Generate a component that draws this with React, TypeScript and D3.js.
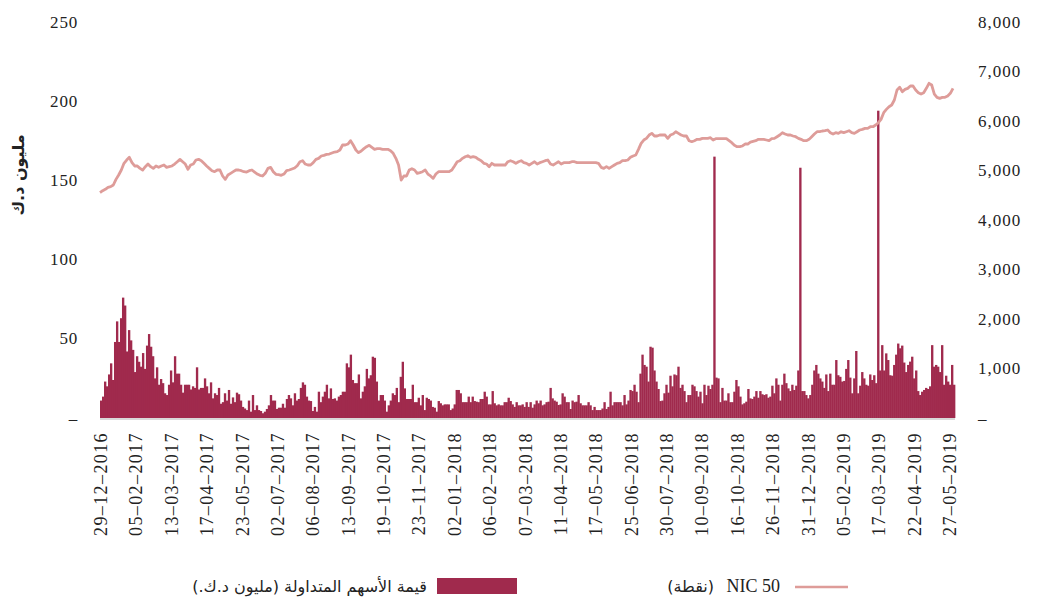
import React from 'react';
import * as d3 from 'd3';

// x-axis tick labels (every 25th trading day)
const tickLabels = [
  '29–12–2016', '05–02–2017', '13–03–2017', '17–04–2017', '23–05–2017',
  '02–07–2017', '06–08–2017', '13–09–2017', '19–10–2017', '23–11–2017',
  '02–01–2018', '06–02–2018', '07–03–2018', '11–04–2018', '17–05–2018',
  '25–06–2018', '30–07–2018', '10–09–2018', '16–10–2018', '26–11–2018',
  '31–12–2018', '05–02–2019', '17–03–2019', '22–04–2019', '27–05–2019',
];

// traded value (million KD)
const tradedValue = [
  11, 13.5, 23, 20, 27.5, 34.5, 24, 48, 61, 48, 63, 76, 71, 42, 55.5, 49, 43, 29, 39, 35.5,
  32.4, 41, 31, 45.7, 53, 45, 39, 25, 32, 21, 24.6, 22, 15.6, 14.5, 21, 30, 22.5, 39, 28, 28,
  21, 16, 21, 21, 21, 18, 20, 19, 32, 18, 19, 19, 25, 20, 15.6, 22.5, 12.4, 15.6, 14.5, 19,
  9, 10, 15.6, 11, 17.7, 9, 13, 10, 16, 15, 11,
  7, 6, 5, 11, 4, 14.5, 5, 8, 5, 4.4, 3, 4, 5.7, 8, 14.5, 11, 11, 5.7, 6.5, 6.5,
  9, 6.5, 12, 14.5, 12.4, 8, 15.6, 11, 12, 19, 22.5, 21, 13.5, 11, 10.7, 4.4, 7, 4, 16.6, 10,
  13.5, 16.6, 21, 12.4, 18.7, 12, 12.4, 11, 13.5, 14.5, 16.6, 16.6, 34.5, 32, 40, 24, 22, 22, 27.5, 12.4,
  16.6, 20, 31, 25, 27, 38.7, 38, 23, 11, 14.5,
  14.5, 11, 4, 8, 11, 15.6, 14.5, 19, 10, 26, 35.5, 18.7, 12, 12, 12, 21, 10, 10, 12.8, 8,
  14.5, 5, 12.8, 12, 11, 7, 6.5, 4, 10.7, 9.3, 8, 8.6, 8.6, 8.6, 5, 6, 8.6, 17.7, 17.7, 15.6,
  10, 10, 10, 13.5, 10, 13.5, 10.7, 10.3, 10, 12, 12, 16.6, 13.5, 8.6, 8.6, 17, 9.3, 8, 8.6, 8,
  8, 10, 10, 12.8, 10.7, 8.6, 7, 10, 8, 8,
  8.6, 7, 10, 7, 10, 6.5, 8.6, 11, 9.3, 11, 8, 8.6, 10, 10.3, 19, 12.4, 11, 10.3, 8.2, 8.6,
  15.6, 13.5, 10, 10, 5.7, 11, 10, 10.3, 14.5, 9.3, 8, 8, 8, 10, 8, 5, 7, 5, 5, 5,
  6, 10, 5.7, 7, 16.6, 8, 10, 10, 10, 10, 8, 14.5, 8.6, 11, 17.7, 17, 21, 16.6, 10, 28,
  40, 33.5, 32.4, 23, 45, 44.4, 30, 23, 18.3, 10.7,
  11, 15.6, 21, 16, 26.7, 20, 27.5, 27, 32.4, 19, 21, 17, 10, 14.5, 14.5, 21, 20, 17, 13.5, 16.6,
  9.3, 21, 14.5, 20.4, 18.3, 21, 165, 25.5, 25, 10, 19, 11, 11, 15.6, 10, 10, 16.6, 24, 20, 13.5,
  8.6, 9.3, 10.3, 18.3, 12.4, 12, 13.5, 17, 12.8, 17, 15, 14.5, 15, 12.8, 13.5, 20.4, 15.6, 25, 21, 11,
  21, 28, 22, 18.7, 17, 21, 17.7, 20.4, 30, 158,
  17, 17, 14.5, 12.4, 14.5, 21, 30, 33.5, 28, 25, 23, 19, 27.5, 17, 28, 21, 21, 36.6, 27, 26,
  23, 23.4, 31, 36.6, 25.5, 15.6, 25, 42.3, 15.6, 20.4, 29, 25, 21, 20.4, 27.5, 24, 27, 22, 194, 30,
  46, 30, 40.8, 36.6, 27, 26.7, 33.5, 40, 47, 44, 45.7, 35, 29, 33.5, 35.6, 38.7, 25, 30, 17, 14.5,
  16.6, 17.7, 19, 18.3, 20, 46, 32.4, 33.5, 32.4, 29, 46, 21, 26.7, 23, 21, 33.5, 21,
];

// NIC 50 index (points)
const nic50 = [
  4552, 4592, 4619, 4660, 4673, 4707, 4821, 4909, 5010, 5145, 5212, 5266, 5158, 5091, 5091, 5043, 5010, 5077, 5131, 5077,
  5043, 5091, 5064, 5091, 5111, 5064, 5077, 5091, 5131, 5178, 5225, 5178, 5131, 5023, 5111, 5131, 5212, 5225, 5198, 5145,
  5091, 5043, 4996, 4976, 5010, 5010, 4889, 4821, 4909, 4942, 4976, 5010, 5010, 4996, 4976, 4969, 4996, 5010, 4969, 4929,
  4902, 4889, 4942, 5043, 5064, 4976, 4922, 4916, 4902, 4929, 4996, 5010, 5030, 5050, 5097, 5178, 5198, 5131, 5111, 5111,
  5158, 5225, 5246, 5293, 5306, 5326, 5333, 5353, 5373, 5380, 5414, 5515, 5515, 5535, 5602, 5515, 5414, 5360, 5394, 5441,
  5481, 5508, 5468, 5427, 5441, 5441, 5427,
  5427, 5427, 5400, 5347, 5246, 5111, 4808, 4889, 4889, 5010, 5037, 5010, 4942, 4956, 4976, 5010, 4929, 4889, 4841, 4929,
  4976, 4976, 4976, 4976, 4976, 5010, 5091, 5178, 5198, 5246, 5279, 5299, 5266, 5279, 5266, 5225, 5198, 5145, 5131, 5077,
  5145, 5111, 5111, 5111, 5111, 5111, 5178, 5198, 5178, 5145, 5178, 5198, 5158, 5145, 5111, 5145, 5178, 5131, 5158, 5178,
  5198, 5212, 5131, 5111, 5145, 5178, 5131, 5158, 5158, 5158, 5178, 5178, 5158, 5158, 5158, 5158, 5158, 5158, 5158, 5158,
  5145, 5064, 5043, 5077, 5043, 5077, 5111, 5145, 5158, 5198, 5198, 5212, 5266, 5293, 5313, 5427, 5549, 5616, 5650, 5717,
  5751, 5697, 5697, 5717, 5717, 5717, 5650,
  5717, 5737, 5784, 5751, 5717, 5697, 5697, 5602, 5582, 5602, 5629, 5629, 5650, 5650, 5650, 5663, 5616, 5643, 5643, 5643,
  5643, 5643, 5602, 5562, 5508, 5481, 5481, 5495, 5535, 5535, 5575, 5589, 5602, 5629, 5629, 5629, 5616, 5602, 5643, 5650,
  5683, 5717, 5764, 5737, 5717, 5717, 5697, 5683, 5650, 5629, 5602, 5602, 5629, 5683, 5737, 5784, 5784, 5798, 5804, 5818,
  5764, 5737, 5764, 5751, 5784, 5764, 5784, 5804, 5764, 5751, 5784, 5818, 5831, 5852, 5852, 5885, 5885, 5919, 5966, 6033,
  6168, 6235, 6289, 6323, 6424, 6626, 6680, 6592, 6639, 6660, 6707, 6707, 6626, 6572, 6545, 6572, 6660, 6761, 6727, 6545,
  6478, 6458, 6478, 6478, 6505, 6559, 6660,
];

const leftTicks = [0, 50, 100, 150, 200, 250];
const rightTicks = [0, 1000, 2000, 3000, 4000, 5000, 6000, 7000, 8000];

const barLegend = 'قيمة الأسهم المتداولة (مليون د.ك.)';
const lineLegendName = 'NIC 50';
const lineLegendUnit = '(نقطة)';
const yTitle = 'مليون د.ك';

const BAR_COLOR = '#A02A4D';
const LINE_COLOR = '#DE9C99';
const TEXT_COLOR = '#222';
const NUM_FONT = "'Liberation Serif', 'DejaVu Serif', serif";
const AR_FONT = "'DejaVu Sans', sans-serif";

export default function App() {
  const W = 1037;
  const H = 597;
  const left = 100;
  const right = 955;
  const top = 22;
  const bottom = 418;

  const xBar = d3.scaleBand<number>().domain(d3.range(tradedValue.length)).range([left, right]).padding(0);
  const xLine = d3.scaleLinear().domain([0, nic50.length - 1]).range([left, 953]);
  const xTick = d3.scalePoint<string>().domain(tickLabels).range([101, 950]);
  const yL = d3.scaleLinear().domain([0, 250]).range([bottom, top]);
  const yR = d3.scaleLinear().domain([0, 8000]).range([bottom, top]);
  const linePath = d3.line<number>().x((_, i) => xLine(i)).y((d) => yR(d))(nic50) || '';
  const fmt = d3.format(',');

  return (
    <svg width={W} height={H} style={{ position: 'absolute', left: 0, top: 0, background: '#fff' }}>
      {/* baseline */}
      <line x1={left} x2={right} y1={bottom + 1} y2={bottom + 1} stroke="#d9d9d9" strokeWidth={2} />
      {/* bars */}
      <g>
        {tradedValue.map((v, i) => (
          <rect
            key={i}
            x={xBar(i)}
            y={yL(v)}
            width={xBar.bandwidth() + 0.35}
            height={bottom - yL(v)}
            fill={BAR_COLOR}
          />
        ))}
      </g>
      {/* line */}
      <path d={linePath} fill="none" stroke={LINE_COLOR} strokeWidth={2.8} strokeLinejoin="round" />
      {/* left axis labels */}
      <g fontFamily={NUM_FONT} fontSize={17} fill={TEXT_COLOR} letterSpacing={0.8}>
        {leftTicks.map((t) => (
          <text key={t} x={78} y={yL(t)} textAnchor="end" dominantBaseline="central">
            {t === 0 ? '–' : t}
          </text>
        ))}
      </g>
      {/* right axis labels */}
      <g fontFamily={NUM_FONT} fontSize={17} fill={TEXT_COLOR} letterSpacing={1}>
        {rightTicks.map((t) => (
          <text key={t} x={978} y={yR(t)} textAnchor="start" dominantBaseline="central">
            {t === 0 ? '–' : fmt(t)}
          </text>
        ))}
      </g>
      {/* y title */}
      <text
        transform={`translate(18,175) rotate(-90)`}
        textAnchor="middle"
        dominantBaseline="central"
        fontFamily={AR_FONT}
        fontSize={16}
        fontWeight="bold"
        fill={TEXT_COLOR}
      >
        {yTitle}
      </text>
      {/* x labels */}
      <g fontFamily={NUM_FONT} fontSize={18} fill={TEXT_COLOR} letterSpacing={1.4}>
        {tickLabels.map((l) => (
          <text
            key={l}
            transform={`translate(${xTick(l)},432) rotate(-90)`}
            textAnchor="end"
            dominantBaseline="central"
          >
            {l}
          </text>
        ))}
      </g>
      {/* legend */}
      <rect x={437} y={578} width={80} height={16} fill={BAR_COLOR} />
      <text x={427} y={586} direction="rtl" textAnchor="start" dominantBaseline="central" fontFamily={AR_FONT} fontSize={16} fill={TEXT_COLOR}>
        {barLegend}
      </text>
      <line x1={795} x2={848} y1={587} y2={587} stroke={LINE_COLOR} strokeWidth={2.5} />
      <text x={780} y={586} textAnchor="end" dominantBaseline="central" fontFamily={NUM_FONT} fontSize={18} fill={TEXT_COLOR}>
        {lineLegendName}
      </text>
      <text x={714} y={586} direction="rtl" textAnchor="start" dominantBaseline="central" fontFamily={AR_FONT} fontSize={16} fill={TEXT_COLOR}>
        {lineLegendUnit}
      </text>
    </svg>
  );
}
